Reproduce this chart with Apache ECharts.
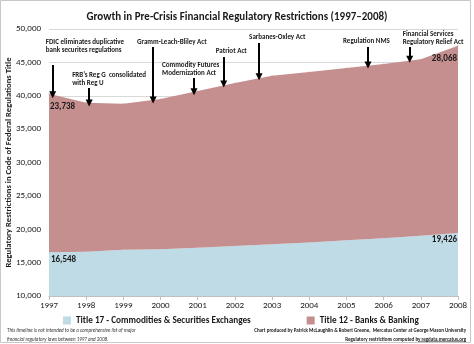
<!DOCTYPE html>
<html>
<head>
<meta charset="utf-8">
<script src="https://cdn.jsdelivr.net/npm/echarts@6/dist/echarts.min.js"></script>
<style>
  html, body { margin: 0; padding: 0; background: #ffffff; }
  #chart { width: 474px; height: 344px; }
</style>
</head>
<body>
<div id="chart"></div>
<script>
// Regulatory restrictions by CFR title, 1997–2008
const years = ['1997', '1998', '1999', '2000', '2001', '2002', '2003', '2004', '2005', '2006', '2007', '2008'];
const title17 = [16548, 16620, 16920, 17020, 17220, 17500, 17770, 18020, 18360, 18660, 19010, 19426];
const title12 = [23738, 22330, 21880, 22480, 23480, 24400, 25230, 25530, 25790, 26090, 26440, 28068];

const seriesNames = ['Title 17 - Commodities & Securities Exchanges', 'Title 12 - Banks & Banking'];

// Regulatory events: label, year, and the arrow's start/end on the value axis
const eventText = [
  'FDIC eliminates duplicative\nbank securites regulations',
  'FRB\u2019s Reg G  consolidated\nwith Reg U',
  'Gramm-Leach-Bliley Act',
  'Commodity Futures\nModernization Act',
  'Patriot Act',
  'Sarbanes-Oxley Act',
  'Regulation NMS',
  'Financial Services\nRegulatory Relief Act'
];
const eventYear = [1997.1, 1998.08, 1999.8, 2000.9, 2001.7, 2002.65, 2005.58, 2006.7];
const eventFrom = [44600, 41170, 47300, 42670, 45800, 47900, 47300, 47300];
const eventTo   = [40150, 38900, 39350, 40600, 41750, 42850, 44600, 45450];

// pixel shift of each text block from the top of its arrow
const eventTextShift = [[-7, -11], [-17, -1], [-16, -1], [-32, -1], [-8, -2], [-10, -2], [-25, -2], [-7, -1]];

const FONT = 'Carlito, Lato, "Open Sans", sans-serif';
const BLUE = '#bfdbe6';
const RED = '#c48f8e';
const INK = '#1a1a1a';

const chart = echarts.init(document.getElementById('chart'), null, { renderer: 'canvas' });

function fmt(v) { return Number(v).toLocaleString('en-US'); }

const valueLabelBase = {
  show: true,
  position: 'bottom',
  fontFamily: FONT,
  fontWeight: 'bold',
  fontSize: 9,
  color: INK,
  formatter: q => fmt(q.value)
};
const mk = extra => Object.assign({}, valueLabelBase, extra);

// first and last points carry value labels
function labelled(values, first, last) {
  return values.map((v, i) => {
    if (i === 0) return { value: v, label: first };
    if (i === values.length - 1) return { value: v, label: last };
    return v;
  });
}

const arrows = eventYear.map((x, i) => [
  { coord: [x, eventFrom[i]], symbol: 'none' },
  { coord: [x, eventTo[i]], symbol: 'triangle' }
]);

chart.setOption({
  animation: false,
  backgroundColor: '#ffffff',
  title: {
    text: 'Growth in Pre-Crisis Financial Regulatory Restrictions (1997\u20132008)',
    left: 'center',
    top: 7,
    textStyle: { fontFamily: FONT, fontWeight: 'bold', fontSize: 11, color: INK }
  },
  legend: {
    left: 58,
    top: 311,
    itemGap: 56,
    itemWidth: 8,
    itemHeight: 8,
    icon: 'rect',
    selectedMode: false,
    textStyle: { fontFamily: FONT, fontWeight: 'bold', fontSize: 9.2, color: INK },
    data: [
      { name: seriesNames[0], itemStyle: { color: BLUE } },
      { name: seriesNames[1], itemStyle: { color: RED } }
    ]
  },
  grid: { left: 49, right: 16, top: 29, bottom: 48, outerBoundsMode: 'none', containLabel: false },
  xAxis: [
    {
      type: 'category',
      data: years,
      boundaryGap: false,
      axisLine: { show: true, lineStyle: { color: '#bfbfbf', width: 1 } },
      axisTick: { show: true, length: 4, lineStyle: { color: '#bfbfbf' } },
      splitLine: { show: false },
      axisLabel: { fontFamily: FONT, fontSize: 9, color: INK, margin: 5 }
    },
    {
      // continuous year scale for placing event arrows between years
      type: 'value',
      min: 1997,
      max: 2008,
      interval: 1,
      show: false,
      position: 'bottom'
    }
  ],
  yAxis: {
    type: 'value',
    min: 10000,
    max: 50000,
    interval: 5000,
    name: 'Regulatory Restrictions in Code of Federal Regulations Title',
    nameLocation: 'middle',
    nameGap: 36,
    nameMoveOverlap: false,
    nameTextStyle: { fontFamily: FONT, fontWeight: 'bold', fontSize: 8.6, color: INK },
    axisLine: { show: false },
    axisTick: { show: false },
    splitLine: { show: true, lineStyle: { color: '#d9d9d9', width: 1 } },
    axisLabel: { fontFamily: FONT, fontSize: 9, color: INK, margin: 8, formatter: v => fmt(v) }
  },
  series: [
    {
      name: seriesNames[0],
      type: 'line',
      stack: 'total',
      symbol: 'circle',
      symbolSize: 1,
      itemStyle: { color: BLUE },
      lineStyle: { width: 0 },
      areaStyle: { color: BLUE, opacity: 1 },
      silent: true,
      z: 2,
      data: labelled(title17,
        mk({ align: 'left', distance: 2, offset: [2, 0] }),
        mk({ align: 'right', distance: 2, offset: [-1, 0] }))
    },
    {
      name: seriesNames[1],
      type: 'line',
      stack: 'total',
      symbol: 'circle',
      symbolSize: 1,
      itemStyle: { color: RED },
      lineStyle: { width: 0 },
      areaStyle: { color: RED, opacity: 1 },
      silent: true,
      z: 2,
      data: labelled(title12,
        mk({ align: 'left', distance: 8, offset: [1, 0] }),
        mk({ align: 'right', distance: 8, offset: [-1, 0] }))
    },
    {
      // carrier for the event arrows
      name: 'events',
      type: 'line',
      xAxisIndex: 1,
      data: [],
      silent: true,
      z: 5,
      markLine: {
        silent: true,
        animation: false,
        symbolSize: [7, 7],
        label: { show: false },
        lineStyle: { color: '#000000', width: 2, type: 'solid' },
        data: arrows
      }
    }
  ]
});

// Event captions sit above their arrows
const graphics = [];
eventText.forEach((t, i) => {
  const p = chart.convertToPixel({ xAxisIndex: 1, yAxisIndex: 0 }, [eventYear[i], eventFrom[i]]);
  graphics.push({
    type: 'text',
    x: p[0] + eventTextShift[i][0],
    y: p[1] + eventTextShift[i][1],
    silent: true,
    style: {
      text: t,
      fill: INK,
      font: 'bold 7px ' + FONT,
      lineHeight: 8,
      align: 'left',
      verticalAlign: 'bottom'
    }
  });
});

// Footnotes
graphics.push({
  type: 'text', x: 7, y: 326, silent: true,
  style: {
    text: 'This timeline is not intended to be a comprehensive list of major\nfinancial regulatory laws between 1997 and 2008.',
    fill: '#333333', font: 'italic 5px ' + FONT, lineHeight: 9, align: 'left', verticalAlign: 'top'
  }
});
graphics.push({
  type: 'text', x: 466, y: 326, silent: true,
  style: {
    text: 'Chart produced by Patrick McLaughlin & Robert Greene,  Mercatus Center at George Mason University\nRegulatory restrictions computed by regdata.mercatus.org',
    fill: '#222222', font: 'bold 5px ' + FONT, lineHeight: 9, align: 'right', verticalAlign: 'top'
  }
});
graphics.push({
  type: 'line', silent: true,
  shape: { x1: 418, y1: 341.5, x2: 466, y2: 341.5 },
  style: { stroke: '#222222', lineWidth: 0.5 }
});
// Outer frame
graphics.push({
  type: 'rect', silent: true,
  shape: { x: 0.5, y: 0.5, width: 470, height: 342 },
  style: { fill: null, stroke: '#c8c8c8', lineWidth: 1 }
});

chart.setOption({ graphic: graphics });
</script>
</body>
</html>
